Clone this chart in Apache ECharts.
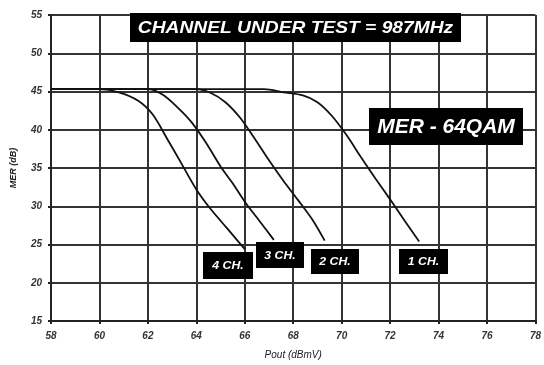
<!DOCTYPE html>
<html>
<head>
<meta charset="utf-8">
<script src="https://cdn.jsdelivr.net/npm/echarts@6/dist/echarts.min.js"></script>
<style>html,body{margin:0;padding:0;background:#fff}#c{width:544px;height:365px}</style>
</head>
<body>
<div id="c"></div>
<script>
// Data
var ch4X = [58, 60, 60.8, 61.6, 62.2, 62.8, 63.4, 64.0, 64.6, 65.3, 66.0];
var ch4Y = [45.3, 45.3, 44.9, 43.8, 42.0, 38.8, 35.5, 32.2, 29.6, 27.0, 24.4];
var ch3X = [58, 62, 62.6, 63.2, 63.8, 64.4, 65.0, 65.5, 66.0, 66.6, 67.2];
var ch3Y = [45.3, 45.3, 44.6, 43.0, 41.0, 38.3, 35.2, 33.0, 30.6, 28.1, 25.6];
var ch2X = [58, 64, 64.6, 65.2, 65.8, 66.4, 67.0, 67.6, 68.2, 68.8, 69.3];
var ch2Y = [45.3, 45.3, 44.8, 43.6, 41.6, 38.9, 36.0, 33.3, 30.8, 28.2, 25.5];
var ch1X = [58, 66.8, 67.6, 68.4, 69.0, 69.6, 70.2, 70.8, 71.4, 72.0, 72.6, 73.2];
var ch1Y = [45.3, 45.3, 44.9, 44.5, 43.6, 41.8, 39.3, 36.4, 33.6, 30.9, 28.1, 25.4];
var seriesNames = ['4 CH.', '3 CH.', '2 CH.', '1 CH.'];
var titleText = 'CHANNEL UNDER TEST = 987MHz';
var modeText = 'MER - 64QAM';
var xName = 'Pout (dBmV)';
var yName = 'MER (dB)';

function zip(xs, ys){ return xs.map(function(x,i){ return [x, ys[i]]; }); }
var allX = [ch4X, ch3X, ch2X, ch1X];
var allY = [ch4Y, ch3Y, ch2Y, ch1Y];

var FONT = 'Liberation Sans';
function box(x, y, w, h, text, fs, sx){
  return {
    type: 'group', left: x, top: y, z: 100,
    children: [
      {type: 'rect', z: 100, shape: {x: 0, y: 0, width: w, height: h}, style: {fill: '#000'}},
      {type: 'text', z: 101, x: w/2, y: h/2 + 1, scaleX: sx, style: {text: text, fill: '#fff', fontFamily: FONT, fontStyle: 'italic', fontWeight: 'bold', fontSize: fs, align: 'center', verticalAlign: 'middle'}}
    ]
  };
}

var chart = echarts.init(document.getElementById('c'), null, {renderer: 'canvas'});
chart.setOption({
  animation: false,
  backgroundColor: '#fff',
  grid: {left: 51, right: 4, top: 15, bottom: 43},
  xAxis: {
    type: 'value', min: 58, max: 78, interval: 2,
    name: xName, nameLocation: 'middle', nameGap: 29,
    nameTextStyle: {fontFamily: FONT, fontStyle: 'italic', fontSize: 10, color: '#222'},
    axisLine: {show: true, lineStyle: {color: '#222', width: 2}},
    axisTick: {show: true, length: 3, lineStyle: {color: '#222', width: 2}},
    axisLabel: {fontFamily: FONT, fontStyle: 'italic', fontWeight: 'bold', fontSize: 10, color: '#333', margin: 10},
    splitLine: {show: true, lineStyle: {color: '#333', width: 2}}
  },
  yAxis: {
    type: 'value', min: 15, max: 55, interval: 5,
    name: yName, nameLocation: 'middle', nameGap: 33, nameRotate: 90,
    nameTextStyle: {fontFamily: FONT, fontStyle: 'italic', fontWeight: 'bold', fontSize: 9, color: '#222'},
    axisLine: {show: true, lineStyle: {color: '#222', width: 2}},
    axisTick: {show: true, length: 3, lineStyle: {color: '#222', width: 2}},
    axisLabel: {fontFamily: FONT, fontStyle: 'italic', fontWeight: 'bold', fontSize: 10, color: '#333', margin: 9},
    splitLine: {show: true, lineStyle: {color: '#333', width: 2}}
  },
  series: seriesNames.map(function(n, i){
    return {
      name: n, type: 'line', smooth: 0.3, symbol: 'none',
      data: zip(allX[i], allY[i]),
      lineStyle: {color: '#111', width: 1.8}
    };
  }),
  graphic: [
    box(130, 13, 331, 29, titleText, 17, 1.13),
    box(369, 108, 154, 37, modeText, 21, 1),
    box(203, 252, 50, 27, seriesNames[0], 10.5, 1.17),
    box(256, 242, 48, 26, seriesNames[1], 10.5, 1.17),
    box(311, 249, 48, 25, seriesNames[2], 10.5, 1.17),
    box(399, 249, 49, 25, seriesNames[3], 10.5, 1.17)
  ]
});
</script>
</body>
</html>
